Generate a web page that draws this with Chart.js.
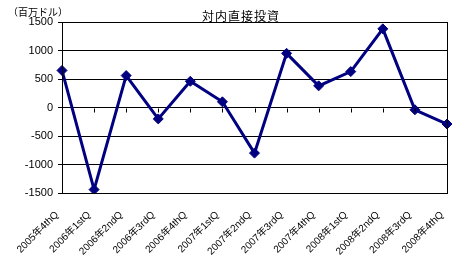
<!DOCTYPE html>
<html>
<head>
<meta charset="utf-8">
<script src="https://cdn.jsdelivr.net/npm/chart.js@4.4.1/dist/chart.umd.min.js"></script>
<style>
  html, body { margin: 0; padding: 0; background: #fff; }
  #wrap { width: 469px; height: 264px; position: relative; }
</style>
</head>
<body>
<div id="wrap"><canvas id="fdiChart" width="469" height="264"></canvas></div>
<script>
// データ
const quarters = [
    '2005年4thQ', '2006年1stQ', '2006年2ndQ', '2006年3rdQ', '2006年4thQ',
    '2007年1stQ', '2007年2ndQ', '2007年3rdQ', '2007年4thQ',
    '2008年1stQ', '2008年2ndQ', '2008年3rdQ', '2008年4thQ'
];
const inwardFdi = [650, -1440, 560, -200, 460, 100, -800, 950, 380, 630, 1380, -40, -290];
const yTicks = [-1500, -1000, -500, 0, 500, 1000, 1500];

const chartTitle = '対内直接投資';
const unitLabel = '（百万ドル）';
const jpFont = '"Noto Sans CJK JP", "DejaVu Sans", sans-serif';
const labelFont = '"Liberation Sans", "Noto Sans CJK JP", sans-serif';

// 枠線・ゼロ線上の目盛り・タイトル
const decorPlugin = {
    id: 'decor',
    afterDraw(chart) {
        const ctx = chart.ctx;
        const area = chart.chartArea;
        const x = chart.scales.x;
        const y = chart.scales.y;
        ctx.save();
        ctx.strokeStyle = '#000';
        ctx.lineWidth = 1;
        ctx.strokeRect(Math.round(area.left) + 0.5, Math.round(area.top) + 0.5,
            Math.round(area.right - area.left), Math.round(area.bottom - area.top));
        const zeroY = Math.round(y.getPixelForValue(0)) + 0.5;
        ctx.beginPath();
        quarters.forEach((q, i) => {
            const px = Math.round(x.getPixelForValue(i)) + 0.5;
            ctx.moveTo(px, zeroY);
            ctx.lineTo(px, zeroY + 4);
        });
        ctx.stroke();
        ctx.fillStyle = '#000';
        ctx.font = '12px ' + jpFont;
        ctx.letterSpacing = '1px';
        ctx.textAlign = 'center';
        ctx.textBaseline = 'middle';
        ctx.fillText(chartTitle, 241, 16);
        ctx.font = '10px ' + jpFont;
        ctx.letterSpacing = '0px';
        ctx.textAlign = 'left';
        ctx.fillText(unitLabel, 8, 12);
        ctx.restore();
    }
};

const ctxFdi = document.getElementById('fdiChart').getContext('2d');
window.fdiChart = new Chart(ctxFdi, {
    type: 'line',
    data: {
        labels: quarters,
        datasets: [{
            data: inwardFdi,
            borderColor: '#000080',
            backgroundColor: '#000080',
            borderWidth: 3,
            tension: 0,
            fill: false,
            pointStyle: 'rectRot',
            pointRadius: 5,
            pointBorderWidth: 1
        }]
    },
    options: {
        responsive: false,
        animation: false,
        devicePixelRatio: 1,
        layout: { padding: { top: 22, right: 22, left: 0, bottom: 0 } },
        plugins: {
            legend: { display: false },
            title: { display: false },
            tooltip: { enabled: false }
        },
        scales: {
            x: {
                offset: false,
                grid: { display: false },
                border: { display: false },
                ticks: {
                    color: '#000',
                    font: { family: labelFont, size: 10 },
                    minRotation: 45,
                    maxRotation: 45,
                    autoSkip: false,
                    padding: 8,
                    labelOffset: -5
                },
                afterFit(scale) { scale.height = 71; }
            },
            y: {
                min: -1500,
                max: 1500,
                afterBuildTicks(scale) { scale.ticks = yTicks.map(v => ({ value: v })); },
                grid: { color: '#000', lineWidth: 1, tickLength: 4, drawTicks: true },
                border: { color: '#000' },
                ticks: {
                    color: '#000',
                    font: { family: '"Liberation Sans", Arial, sans-serif', size: 11 },
                    padding: 5,
                    autoSkip: false,
                    callback: v => String(v)
                },
                afterFit(scale) { scale.width = 62; }
            }
        }
    },
    plugins: [decorPlugin]
});
</script>
</body>
</html>
